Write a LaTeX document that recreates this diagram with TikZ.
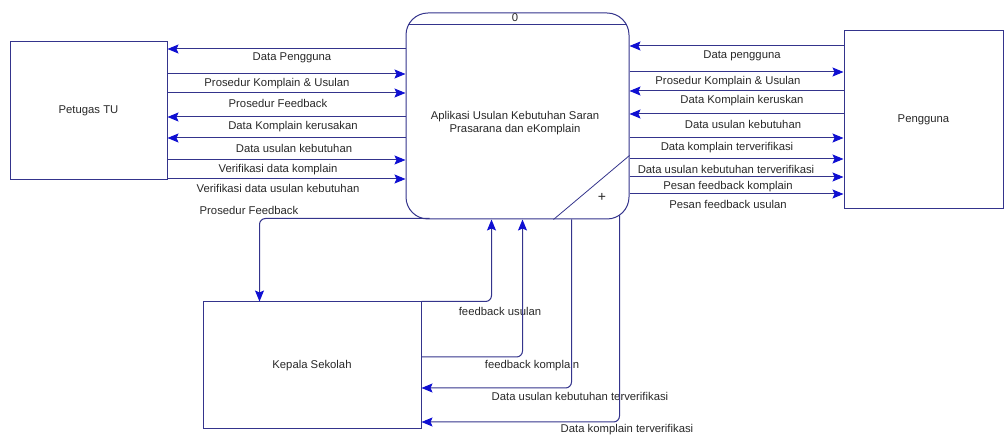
\documentclass[tikz,border=0pt]{standalone}
\usepackage{fontspec}
\setmainfont{Liberation Sans}
\usetikzlibrary{arrows.meta,calc}
\definecolor{edge}{RGB}{52,52,140}
\definecolor{tipblue}{RGB}{15,15,210}
\definecolor{txt}{RGB}{40,40,40}
\begin{document}
\begin{tikzpicture}[x=1pt,y=-1pt,
  entity/.style={draw=edge,line width=1pt,fill=white,inner sep=0pt,text=txt,font=\fontsize{11.3}{13}\selectfont},
  flow/.style={draw=edge,line width=1pt,-{Stealth[length=11pt,width=9pt,inset=2pt,color=tipblue]}},
  elbowflow/.style={flow,rounded corners=6pt},
  lbl/.style={text=txt,inner sep=0pt,font=\fontsize{11.3}{13}\selectfont}]
\useasboundingbox (0,0) rectangle (1005,435);

% external entities
\node[entity,minimum width=157pt,minimum height=138pt] (pt) at (88.5,111) {Petugas TU};
\node[entity,minimum width=159pt,minimum height=178pt] (pg) at (923.5,120) {Pengguna};
\node[entity,minimum width=218pt,minimum height=127pt] (ks) at (312,365.5) {Kepala Sekolah};

% process
\node[entity,rounded corners=22pt,minimum width=223pt,minimum height=206pt] (pr) at (517.5,116) {};
\draw[edge,line width=0.8pt] ([xshift=2.4pt,yshift=-12pt]pr.north west) -- ([xshift=-2.4pt,yshift=-12pt]pr.north east);
\draw[edge,line width=0.8pt] ([xshift=148pt]pr.south west) -- ([yshift=64pt]pr.south east);
\node[lbl] (pnum) at (515,18) {0};
\node[lbl,align=center] (ptext) at (515,123) {Aplikasi Usulan Kebutuhan Saran\\Prasarana dan eKomplain};
\node[lbl,font=\fontsize{14}{14}\selectfont] (plus) at (602,197) {+};

% Petugas TU <-> process
\draw[flow] (pr.west |- 0,49) -- (pt.east |- 0,49);
\draw[flow] (pt.east |- 0,74) -- (pr.west |- 0,74);
\draw[flow] (pt.east |- 0,93) -- (pr.west |- 0,93);
\draw[flow] (pr.west |- 0,117) -- (pt.east |- 0,117);
\draw[flow] (pr.west |- 0,138) -- (pt.east |- 0,138);
\draw[flow] (pt.east |- 0,160) -- (pr.west |- 0,160);
\draw[flow] (pt.east |- 0,179) -- (pr.west |- 0,179);
\node[lbl] (l1) at (292,58) {Data Pengguna};
\node[lbl] (l2) at (277,84) {Prosedur Komplain \& Usulan};
\node[lbl] (l3) at (278,103) {Prosedur Feedback};
\node[lbl] (l4) at (293,127) {Data Komplain kerusakan};
\node[lbl] (l5) at (294,148) {Data usulan kebutuhan};
\node[lbl] (l6) at (278,170) {Verifikasi data komplain};
\node[lbl] (l7) at (278,188) {Verifikasi data usulan kebutuhan};

% process <-> Pengguna
\draw[flow] (pg.west |- 0,46) -- (pr.east |- 0,46);
\draw[flow] (pr.east |- 0,72) -- (pg.west |- 0,72);
\draw[flow] (pg.west |- 0,91) -- (pr.east |- 0,91);
\draw[flow] (pg.west |- 0,114) -- (pr.east |- 0,114);
\draw[flow] (pr.east |- 0,138) -- (pg.west |- 0,138);
\draw[flow] (pr.east |- 0,159) -- (pg.west |- 0,159);
\draw[flow] (pr.east |- 0,177) -- (pg.west |- 0,177);
\draw[flow] (pr.east |- 0,194) -- (pg.west |- 0,194);
\node[lbl] (r1) at (742,56) {Data pengguna};
\node[lbl] (r2) at (728,82) {Prosedur Komplain \& Usulan};
\node[lbl] (r3) at (742,101) {Data Komplain keruskan};
\node[lbl] (r4) at (743,124) {Data usulan kebutuhan};
\node[lbl] (r5) at (727,148) {Data komplain terverifikasi};
\node[lbl] (r6) at (726,169) {Data usulan kebutuhan terverifikasi};
\node[lbl] (r7) at (728,187) {Pesan feedback komplain};
\node[lbl] (r8) at (728,204) {Pesan feedback usulan};

% process <-> Kepala Sekolah
\draw[elbowflow] ([xshift=24pt,yshift=1pt]pr.south west) -| ([xshift=57pt]ks.north west);
\node[lbl] (k0) at (249,210) {Prosedur Feedback};
\draw[elbowflow] (ks.north east) -| ([xshift=86pt]pr.south west);
\node[lbl] (k1) at (500,311) {feedback usulan};
\draw[elbowflow] (ks.east |- 0,357) -| ([xshift=117pt]pr.south west);
\node[lbl] (k2) at (532,366) {feedback komplain};
\draw[elbowflow] ([xshift=166pt]pr.south west) |- (ks.east |- 0,388);
\node[lbl] (k3) at (580,396) {Data usulan kebutuhan terverifikasi};
\draw[elbowflow] ([xshift=-10pt,yshift=4pt]pr.south east) |- (ks.east |- 0,422);
\node[lbl] (k4) at (627,430) {Data komplain terverifikasi};
\end{tikzpicture}
\end{document}
